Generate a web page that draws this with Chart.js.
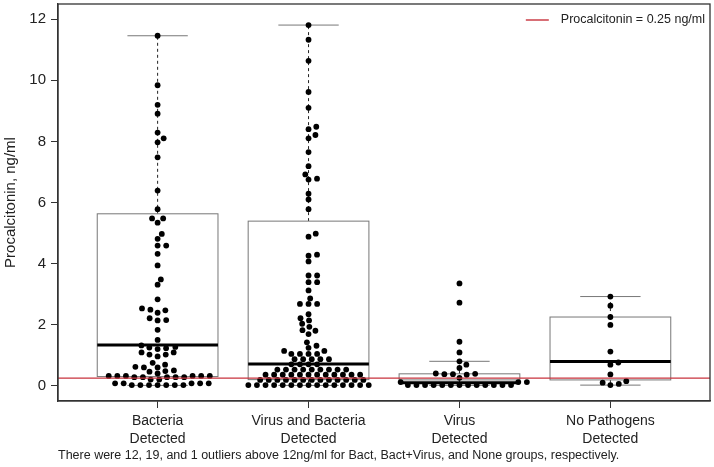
<!DOCTYPE html>
<html>
<head>
<meta charset="utf-8">
<script src="https://cdn.jsdelivr.net/npm/chart.js@4/dist/chart.umd.min.js"></script>
<style>
  html, body { margin: 0; padding: 0; background: #fff; }
  #wrap { position: relative; width: 714px; height: 467px; }
</style>
</head>
<body>
<div id="wrap"><canvas id="pctChart"></canvas></div>
<script>
// categories and values
const categories = [
  ['Bacteria', 'Detected'],
  ['Virus and Bacteria', 'Detected'],
  ['Virus', 'Detected'],
  ['No Pathogens', 'Detected']
];

const bacteria = [
  0.02, 0.02, 0.02, 0.02, 0.02, 0.02, 0.02, 0.08, 0.08, 0.08, 0.08, 0.08,
  0.20, 0.20, 0.28, 0.28, 0.28, 0.28, 0.28, 0.32, 0.32, 0.32, 0.32, 0.32, 0.32,
  0.40, 0.46, 0.48, 0.50, 0.60, 0.60, 0.62, 0.69, 0.75,
  0.96, 1.02, 1.02, 1.09, 1.09, 1.20, 1.23, 1.25, 1.27, 1.32, 1.50, 1.83,
  2.14, 2.15, 2.21, 2.39, 2.47, 2.49, 2.53, 2.83, 3.31, 3.48, 3.94, 4.32,
  4.59, 4.59, 4.81, 4.97, 5.34, 5.48, 5.48, 5.78, 6.39, 7.48, 7.97, 8.10,
  8.29, 8.91, 9.20, 9.84, 11.46
];

const virusBacteria = [
  0.02, 0.02, 0.02, 0.02, 0.02, 0.02, 0.02, 0.02, 0.02, 0.02, 0.02, 0.02, 0.02, 0.02, 0.02,
  0.19, 0.19, 0.19, 0.19, 0.19, 0.19, 0.19, 0.19, 0.19, 0.19, 0.19, 0.19, 0.19,
  0.36, 0.36, 0.36, 0.36, 0.36, 0.36, 0.36, 0.36, 0.36, 0.36, 0.36, 0.36,
  0.53, 0.53, 0.53, 0.53, 0.53, 0.53, 0.53, 0.53, 0.53,
  0.70, 0.70, 0.70, 0.70, 0.87, 0.87, 0.87, 0.87, 0.87, 1.04, 1.04, 1.04, 1.04,
  1.14, 1.14, 1.24, 1.31, 1.42, 1.69, 1.80, 1.82, 1.93, 2.03,
  2.14, 2.21, 2.34, 2.68, 2.68, 2.68, 2.86, 3.12, 3.39, 3.39, 3.61, 3.61,
  4.07, 4.26, 4.29, 4.88, 4.98, 5.78, 6.10, 6.29, 6.75, 6.78, 6.92, 7.19,
  7.65, 8.10, 8.21, 8.40, 8.48, 9.10, 9.62, 10.64, 11.33, 11.81
];

const virus = [
  0.02, 0.02, 0.02, 0.02, 0.02, 0.02, 0.02, 0.02, 0.02, 0.02, 0.02, 0.02, 0.02,
  0.12, 0.12, 0.12, 0.26, 0.36, 0.38, 0.38, 0.39, 0.40, 0.58, 0.69, 0.80,
  1.09, 1.44, 2.72, 3.35
];

const noPathogens = [0.02, 0.06, 0.10, 0.15, 0.37, 0.69, 0.76, 1.12, 1.99, 2.25, 2.62, 2.92];

const groups = [bacteria, virusBacteria, virus, noPathogens];

// box statistics as drawn
const whiskerLo = [0.01, 0.01, 0.01, 0.02];
const boxQ1 = [0.30, 0.20, 0.19, 0.19];
const boxMedian = [1.33, 0.71, 0.10, 0.79];
const boxQ3 = [5.63, 5.39, 0.39, 2.25];
const whiskerHi = [11.46, 11.81, 0.80, 2.92];

const yTicks = [0, 2, 4, 6, 8, 10, 12];
const cutoff = 0.25;
const cutoffLabel = 'Procalcitonin = 0.25 ng/ml';
const footnote = 'There were 12, 19, and 1 outliers above 12ng/ml for Bact, Bact+Virus, and None groups, respectively.';

const X_MIN = 0.34, X_MAX = 4.66;
const FONT = "'Liberation Sans', Arial, sans-serif";
const RED = '#c8323c';
Chart.defaults.font.family = FONT;
Chart.defaults.color = '#222';

// box, whiskers, frame, legend and footnote
const boxPlugin = {
  id: 'boxPlot',
  beforeDatasetsDraw(chart) {
    const { ctx, scales: { x, y } } = chart;
    ctx.save();
    for (let g = 0; g < groups.length; g++) {
      const xl = x.getPixelForValue(g + 1 - 0.4);
      const xr = x.getPixelForValue(g + 1 + 0.4);
      const xc = x.getPixelForValue(g + 1);
      const capL = x.getPixelForValue(g + 1 - 0.2);
      const capR = x.getPixelForValue(g + 1 + 0.2);
      const yLo = y.getPixelForValue(whiskerLo[g]);
      const y1 = y.getPixelForValue(boxQ1[g]);
      const yMed = y.getPixelForValue(boxMedian[g]);
      const y3 = y.getPixelForValue(boxQ3[g]);
      const yHi = y.getPixelForValue(whiskerHi[g]);

      // whiskers
      ctx.strokeStyle = '#222';
      ctx.lineWidth = 1;
      ctx.setLineDash([3, 3]);
      ctx.beginPath();
      ctx.moveTo(xc, y3); ctx.lineTo(xc, yHi);
      ctx.moveTo(xc, y1); ctx.lineTo(xc, yLo);
      ctx.stroke();
      ctx.setLineDash([]);

      // caps
      ctx.strokeStyle = '#777';
      ctx.beginPath();
      ctx.moveTo(capL, yHi); ctx.lineTo(capR, yHi);
      ctx.moveTo(capL, yLo); ctx.lineTo(capR, yLo);
      ctx.stroke();

      // box
      ctx.fillStyle = '#fff';
      ctx.fillRect(xl, y3, xr - xl, y1 - y3);
      ctx.strokeStyle = '#777';
      ctx.strokeRect(xl, y3, xr - xl, y1 - y3);

      // median
      ctx.strokeStyle = '#000';
      ctx.lineWidth = 3;
      ctx.beginPath();
      ctx.moveTo(xl, yMed); ctx.lineTo(xr, yMed);
      ctx.stroke();
    }
    ctx.restore();
  },
  afterDraw(chart) {
    const { ctx, chartArea: a } = chart;
    ctx.save();
    ctx.strokeStyle = '#333';
    ctx.lineWidth = 1.3;
    ctx.strokeRect(a.left, a.top, a.right - a.left, a.bottom - a.top);

    // legend entry for the cutoff line
    ctx.font = '12.5px ' + FONT;
    ctx.fillStyle = '#222';
    ctx.textBaseline = 'middle';
    ctx.textAlign = 'right';
    const ly = a.top + 16;
    const tx = a.right - 5;
    ctx.fillText(cutoffLabel, tx, ly);
    const tw = ctx.measureText(cutoffLabel).width;
    ctx.strokeStyle = RED;
    ctx.lineWidth = 1.4;
    ctx.beginPath();
    ctx.moveTo(tx - tw - 35, ly); ctx.lineTo(tx - tw - 12, ly);
    ctx.stroke();

    ctx.font = '12.5px ' + FONT;
    ctx.textAlign = 'left';
    ctx.fillText(footnote, a.left, 456);
    ctx.restore();
  }
};

const pointSets = groups.map((vals, g) => ({
  type: 'scatter',
  label: categories[g].join(' '),
  data: vals.map(v => ({ x: g + 1, y: v })),
  backgroundColor: '#000',
  borderColor: '#000',
  pointRadius: 2.9,
  pointBorderWidth: 0
}));

const chart = new Chart(document.getElementById('pctChart'), {
  type: 'scatter',
  data: {
    datasets: [
      {
        type: 'line',
        label: cutoffLabel,
        data: [{ x: X_MIN, y: cutoff }, { x: X_MAX, y: cutoff }],
        borderColor: RED,
        borderWidth: 1.4,
        pointRadius: 0
      },
      ...pointSets
    ]
  },
  options: {
    responsive: true,
    maintainAspectRatio: false,
    animation: false,
    layout: { padding: { top: -1, right: 3, left: 0, bottom: 0 } },
    plugins: {
      legend: { display: false },
      tooltip: { enabled: false }
    },
    scales: {
      x: {
        type: 'linear',
        min: X_MIN,
        max: X_MAX,
        afterBuildTicks: scale => { scale.ticks = categories.map((c, i) => ({ value: i + 1 })); },
        afterFit: scale => { scale.height = 66; scale.paddingLeft = 0; scale.paddingRight = 0; },
        ticks: {
          callback: v => categories[v - 1],
          font: { size: 14, lineHeight: 1.27 },
          color: '#222',
          padding: 4,
          maxRotation: 0,
          autoSkip: false
        },
        grid: { drawOnChartArea: false, drawTicks: true, tickLength: 7, tickColor: '#333' },
        border: { display: true, color: '#333', width: 1.3 }
      },
      y: {
        min: -0.5,
        max: 12.5,
        afterBuildTicks: scale => { scale.ticks = yTicks.map(v => ({ value: v })); },
        afterFit: scale => { scale.width = 58; scale.paddingTop = 0; scale.paddingBottom = 0; },
        ticks: { font: { size: 15 }, color: '#222', padding: 5 },
        title: {
          display: true,
          text: 'Procalcitonin, ng/ml',
          font: { size: 15 },
          color: '#222',
          padding: { top: 2, bottom: 0 }
        },
        grid: { drawOnChartArea: false, drawTicks: true, tickLength: 7, tickColor: '#333' },
        border: { display: true, color: '#333', width: 1.3 }
      }
    }
  },
  plugins: [boxPlugin]
});

// beeswarm layout: place points in ascending order as close to the group centre as possible
const SX = 8.6, SY = 5.6;
function swarmOffsets(values, xScale, yScale) {
  const pxPerUnit = xScale.getPixelForValue(1) - xScale.getPixelForValue(0);
  const order = values.map((v, i) => i).sort((a, b) => values[a] - values[b]);
  const placed = [];
  const off = new Array(values.length);
  order.forEach(i => {
    const py = yScale.getPixelForValue(values[i]);
    const cands = [0];
    placed.forEach(p => {
      const dy = py - p.y;
      if (Math.abs(dy) < SY) {
        const dx = SX * Math.sqrt(1 - (dy / SY) ** 2);
        cands.push(p.x + dx, p.x - dx);
      }
    });
    cands.sort((a, b) => Math.abs(a) - Math.abs(b) || b - a);
    const px = cands.find(c => placed.every(p => ((c - p.x) / SX) ** 2 + ((py - p.y) / SY) ** 2 >= 0.999));
    placed.push({ x: px, y: py });
    off[i] = px / pxPerUnit;
  });
  return off;
}

groups.forEach((vals, g) => {
  const off = swarmOffsets(vals, chart.scales.x, chart.scales.y);
  chart.data.datasets[g + 1].data = vals.map((v, i) => ({ x: g + 1 + off[i], y: v }));
});
chart.update('none');
</script>
</body>
</html>
